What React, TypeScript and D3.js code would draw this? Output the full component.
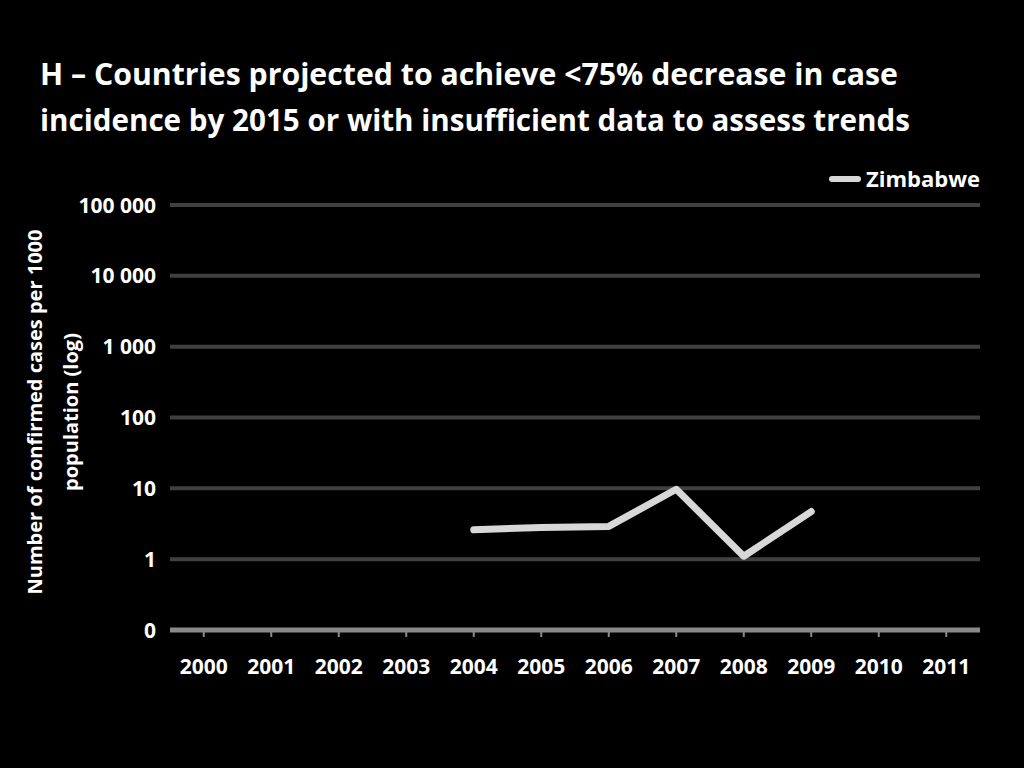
import * as d3 from 'd3';

// chart data
const years = ['2000', '2001', '2002', '2003', '2004', '2005', '2006', '2007', '2008', '2009', '2010', '2011'];
const seriesName = 'Zimbabwe';
const seriesValues: (number | null)[] = [null, null, null, null, 2.6, 2.8, 2.9, 9.7, 1.1, 4.7, null, null];
const yTicks = [0.1, 1, 10, 100, 1000, 10000, 100000];
const titleLines = [
  'H – Countries projected to achieve <75% decrease in case',
  'incidence by 2015 or with insufficient data to assess trends',
];
const yTitleLines = ['Number of confirmed cases per 1000', 'population (log)'];

const W = 1024;
const H = 768;
const margin = { top: 205, right: 44, bottom: 138, left: 170 };
const font = '"Open Sans", "DejaVu Sans", sans-serif';

export default function App() {
  const x = d3
    .scaleBand<string>()
    .domain(years)
    .range([margin.left, W - margin.right]);

  const y = d3
    .scaleLog()
    .domain([0.1, 100000])
    .range([H - margin.bottom, margin.top]);

  const fmt = (v: number) => (v < 1 ? '0' : d3.format(',')(v).replace(/,/g, ' '));

  const pts = years
    .map((yr, i) => ({ yr, v: seriesValues[i] }))
    .filter(d => d.v != null) as { yr: string; v: number }[];

  const line = d3
    .line<{ yr: string; v: number }>()
    .x(d => (x(d.yr) ?? 0) + x.bandwidth() / 2)
    .y(d => y(d.v));

  const axisY = H - margin.bottom;

  return (
    <svg width={W} height={H} style={{ display: 'block', position: 'absolute', left: 0, top: 0, background: '#000' }}>
      <rect width={W} height={H} fill="#000" />

      {/* title */}
      {titleLines.map((t, i) => (
        <text key={t} x={40} y={85 + i * 46} fill="#fff" fontFamily={font} fontWeight="bold" fontSize={30} textLength={i === 0 ? 858 : 870} lengthAdjust="spacingAndGlyphs">
          {t}
        </text>
      ))}

      {/* gridlines */}
      {yTicks.slice(1).map(t => (
        <line key={t} x1={margin.left} x2={W - margin.right} y1={y(t)} y2={y(t)} stroke="#404040" strokeWidth={4} />
      ))}

      {/* y tick labels */}
      {yTicks.map(t => (
        <text key={t} x={156} y={y(t)} dy="0.36em" textAnchor="end" fill="#fff" fontFamily={font} fontWeight="bold" fontSize={21}>
          {fmt(t)}
        </text>
      ))}

      {/* x axis */}
      <line x1={margin.left} x2={W - margin.right} y1={axisY} y2={axisY} stroke="#8a8a8a" strokeWidth={5} />
      {years.map(yr => {
        const cx = (x(yr) ?? 0) + x.bandwidth() / 2;
        return (
          <g key={yr}>
            <line x1={cx} x2={cx} y1={axisY} y2={axisY + 7} stroke="#8a8a8a" strokeWidth={2} />
            <text x={cx} y={axisY + 44} textAnchor="middle" fill="#fff" fontFamily={font} fontWeight="bold" fontSize={21}>
              {yr}
            </text>
          </g>
        );
      })}

      {/* y title */}
      <g transform="translate(42, 412) rotate(-90)">
        {yTitleLines.map((t, i) => (
          <text key={t} x={0} y={i * 36} textAnchor="middle" fill="#fff" fontFamily={font} fontWeight="bold" fontSize={20}>
            {t}
          </text>
        ))}
      </g>

      {/* series */}
      <path d={line(pts) ?? ''} fill="none" stroke="#d8d8d8" strokeWidth={7} strokeLinejoin="round" strokeLinecap="round" />

      {/* legend */}
      <line x1={832} x2={858} y1={179} y2={179} stroke="#d8d8d8" strokeWidth={6} strokeLinecap="round" />
      <text x={866} y={179} dy="0.36em" fill="#fff" fontFamily={font} fontWeight="bold" fontSize={22}>
        {seriesName}
      </text>
    </svg>
  );
}
